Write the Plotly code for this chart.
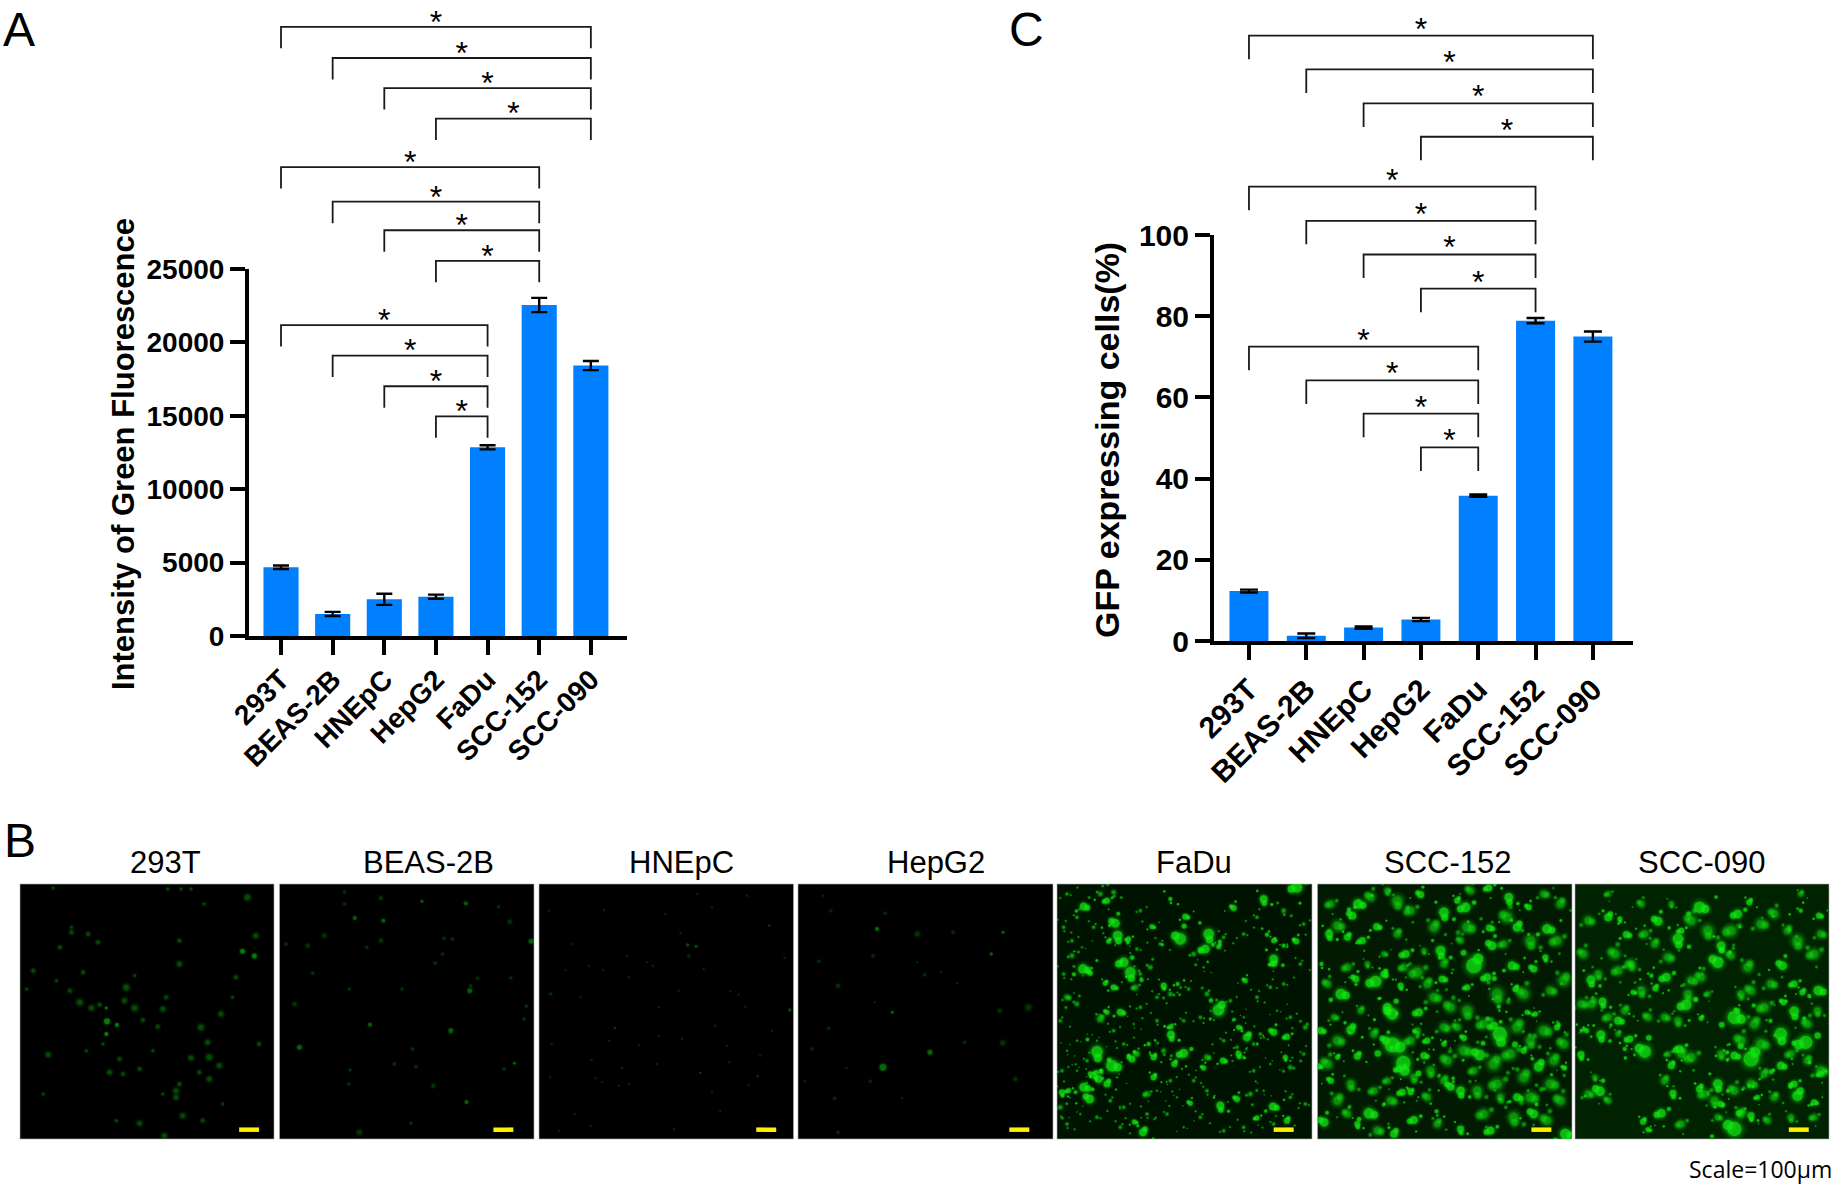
import plotly.graph_objects as go

W, H = 1834, 1188

# ---------- data ----------
CATEGORIES = ["293T", "BEAS-2B", "HNEpC", "HepG2", "FaDu", "SCC-152", "SCC-090"]
INTENSITY = [4680, 1500, 2500, 2680, 12850, 22550, 18420]
INTENSITY_ERR = [120, 140, 380, 140, 140, 486, 312]
GFP = [12.3, 1.3, 3.3, 5.3, 35.8, 78.9, 75.0]
GFP_ERR = [0.35, 0.55, 0.3, 0.4, 0.3, 0.65, 1.25]
TICKS_A = [0, 5000, 10000, 15000, 20000, 25000]
TICKS_C = [0, 20, 40, 60, 80, 100]
# bracket heights (value units) from the top bracket down, 4 per right-hand bar
LEVELS_A = [41493, 39375, 37326, 35243, 31944, 29583, 27639, 25556, 21181, 19097, 17014, 14965]
LEVELS_C = [149.1, 140.8, 132.4, 124.2, 111.9, 103.5, 95.2, 86.8, 72.5, 64.2, 56.0, 47.7]
BRACKET_LEFT = [0, 1, 2, 3]
BRACKET_RIGHT = [6, 5, 4]

# microscope panels: spots (x, y, diameter) in a 765-wide frame
T293_BRIGHT = [(670,202,5),(706,216,5),(262,412,6),(292,423,4),(260,450,4),(260,372,3)]
T293_DIM = [(570,520,6),(515,522,5),(470,620,5),(565,475,5),(345,372,6),(320,310,6),(315,350,5),(430,375,5),(240,362,4),
            (180,355,6),(215,372,5),(155,145,4),(155,130,3),(40,260,4),(190,265,4),(480,170,4),(480,240,5),(685,40,6),
            (710,155,5),(650,280,4),(345,275,3),(85,512,5),(270,565,5),(310,570,4),(360,555,4),(480,600,4),(490,695,5),
            (360,718,5),(570,585,5),(545,430,6),(605,390,5),(415,428,4),(370,408,4),(300,525,4),(445,15,3),(485,15,3),
            (515,15,3),(555,60,3),(100,12,3),(120,190,4),(470,640,5),(435,755,5),(550,710,4),(235,175,4),(205,150,4),
            (440,340,4),(430,630,3),(540,565,4),(600,545,5),(150,320,4),(110,290,3),(200,500,3),(250,480,3),(400,500,3),
            (640,340,3),(720,480,4),(610,660,3),(70,630,3),(20,315,3),(290,710,3)]
BEAS_BRIGHT = [(572,320,5),(756,172,5),(428,52,3),(560,58,4),(226,102,4),(312,110,4),(562,654,4),(60,490,5),(272,422,4),(706,538,3),(515,440,5)]
BEAS_DIM = [(135,155,4),(85,185,4),(495,163,3),(520,165,3),(575,305,3),(692,113,4),(658,68,3),(305,170,4),(262,190,3),(210,315,3),
            (100,268,3),(45,360,4),(368,315,3),(490,210,3),(468,238,3),(595,283,3),(742,367,3),(735,405,3),(212,558,3),(208,600,3),
            (410,548,3),(462,605,4),(345,540,3),(240,745,5),(395,718,3),(20,180,3),(195,60,3),(305,42,4),(195,25,3),(695,282,3),
            (675,555,3),(400,495,3)]
HNEPC_BRIGHT = [(447,183,3),(472,187,3),(485,566,2),(657,577,2),(228,432,2),(692,125,2),(754,378,3)]
HNEPC_DIM = [(425,148,2),(342,246,2),(325,235,2),(450,215,3),(193,258,2),(35,330,3),(38,480,2),(158,528,2),(250,552,2),(300,483,2),
             (430,465,2),(545,682,2),(108,690,2),(270,600,2),(33,580,2),(190,595,2),(170,583,2),(600,332,2),(738,222,2),(270,280,2),
             (195,78,2),(30,80,2),(475,30,2),(625,35,2),(360,370,2),(575,322,2),(620,368,2),(572,535,2),(630,603,2),(405,735,2),
             (520,625,2),(355,540,2),(80,258,2),(100,180,2),(150,245,2),(420,320,2),(495,255,2),(530,425,2),(665,515,2),(240,605,2),
             (125,340,2),(210,470,2),(360,455,2),(155,725,2),(60,740,2),(700,440,2),(520,70,2),(380,90,2),(265,215,2),(565,485,2)]
HEPG2_BRIGHT = [(237,135,4),(396,505,5),(255,550,7),(615,145,3),(580,210,3),(283,385,3)]
HEPG2_DIM = [(358,150,5),(465,145,3),(98,80,3),(120,306,4),(692,370,6),(614,477,5),(605,380,4),(380,272,3),(225,215,3),(62,232,3),
             (428,265,2),(478,298,2),(358,235,2),(92,433,3),(42,495,3),(217,592,3),(652,585,4),(500,475,3),(110,643,3),(120,745,3),
             (75,35,2),(262,88,3),(230,355,2),(145,552,2),(20,592,2),(312,642,2)]
FADU_BRIGHT = [(80,68,8),(175,118,9),(182,155,10),(215,165,5),(155,172,5),(285,128,5),(370,165,12),(455,150,11),(445,195,9),(485,188,5),
               (385,98,6),(530,72,6),(620,45,8),(720,10,11),(650,170,5),(680,185,4),(718,172,6),(650,225,9),(645,240,5),(630,152,4),
               (78,255,10),(100,268,5),(220,265,11),(200,235,10),(145,298,5),(170,310,6),(565,290,5),(320,305,6),(362,300,4),(485,378,12),
               (190,385,7),(150,385,5),(342,452,8),(342,428,5),(570,460,8),(545,430,5),(650,445,7),(120,503,12),(380,508,9),(352,540,6),
               (165,545,12),(125,585,8),(100,570,5),(118,565,5),(150,600,7),(80,610,9),(98,645,9),(15,625,6),(35,620,5),(290,580,6),
               (498,530,6),(440,552,5),(545,510,6),(690,458,6),(690,710,6),(648,668,8),(540,645,6),(490,665,8),(600,702,5),(258,745,8),
               (232,714,5),(400,658,5),(685,520,5),(275,480,4),(290,520,6),(460,405,3),(225,525,7),(340,45,4),(150,50,6)]
FADU_DIM = [(30,30,3),(60,100,3),(20,130,3),(45,170,3),(110,130,3),(75,190,2),(130,30,4),(170,25,4),(250,80,3),(310,180,3),
            (240,195,3),(280,250,4),(250,270,3),(235,310,5),(300,340,3),(340,330,4),(395,315,3),(440,250,2),(410,210,4),(500,160,3),
            (560,150,3),(600,100,3),(680,80,4),(740,120,3),(730,240,3),(680,300,3),(640,310,3),(600,340,3),(520,350,3),(450,330,4),
            (430,400,3),(380,410,3),(300,410,3),(250,370,3),(130,405,6),(30,340,5),(60,360,4),(20,270,3),(45,215,4),(10,410,3),
            (60,470,2),(90,530,3),(30,500,2),(15,560,3),(60,560,2),(200,480,3),(240,510,5),(320,500,4),(340,590,3),(410,590,3),
            (450,520,5),(500,470,3),(540,490,3),(590,560,3),(640,540,2),(700,550,4),(740,510,3),(620,620,2),(580,630,4),(700,640,3),
            (745,660,3),(650,720,3),(560,730,3),(500,740,3),(430,700,3),(380,730,2),(330,690,3),(270,690,3),(200,670,3),(160,650,3),
            (120,700,3),(70,690,2),(30,720,3),(10,670,4),(190,730,3),(300,620,2),(360,640,2),(450,620,3),(270,630,5),(180,580,2),
            (590,480,3),(560,520,3),(610,450,3),(700,400,3),(745,430,4),(660,380,2),(560,400,2),(230,420,2),(170,440,3),(120,470,2)]
SCC152_BRIGHT = [(122,60,10),(105,95,8),(35,150,8),(135,170,7),(90,160,7),(178,128,7),(310,32,7),(380,85,10),(445,70,10),(420,50,6),
                 (517,132,7),(525,185,9),(575,40,9),(515,12,7),(600,130,9),(690,135,10),(635,70,6),(370,200,10),(265,210,8),(470,245,16),
                 (585,245,9),(650,255,7),(685,220,6),(175,292,12),(200,270,7),(70,330,11),(115,285,7),(250,305,6),(450,310,6),(595,315,6),
                 (375,285,7),(225,390,12),(210,370,9),(305,385,8),(100,438,9),(225,483,16),(205,470,8),(258,537,15),(245,555,7),(120,517,7),
                 (320,515,7),(487,513,11),(548,450,15),(530,425,8),(665,548,10),(3,547,6),(400,608,8),(430,620,9),(255,625,7),(280,625,6),
                 (155,688,11),(20,715,9),(120,720,6),(290,708,8),(230,750,8),(745,750,11),(742,552,5),(358,682,4),(655,390,5),(720,430,6),
                 (630,385,5),(440,462,6),(545,368,4),(330,470,6),(380,480,5),(600,640,8),(650,690,9),(430,735,7),(520,740,8),(60,520,5),
                 (10,440,7),(40,590,6),(12,240,4),(510,280,8),(620,500,6)]
SCC152_DIM = [(60,125,9),(160,40,8),(240,50,10),(280,80,8),(350,130,9),(450,130,10),(570,100,10),(640,170,10),(720,170,9),(740,290,10),
              (700,320,8),(620,330,10),(540,330,11),(300,265,10),(330,300,8),(350,340,9),(400,370,9),(450,380,10),(500,420,9),(600,430,10),
              (680,440,10),(740,480,9),(640,470,9),(580,510,10),(530,540,11),(440,500,10),(390,530,9),(340,560,8),(280,470,8),(170,450,7),
              (60,470,9),(30,540,9),(100,600,8),(170,620,7),(60,650,9),(220,650,8),(330,640,7),(480,620,9),(540,600,10),(620,580,10),
              (700,600,10),(730,650,9),(590,700,10),(500,690,9),(360,720,7),(180,740,8),(90,690,7),(290,580,7),(210,590,6),(130,380,6),
              (50,400,6),(30,300,7),(150,240,5),(90,250,7),(240,150,7),(200,210,5),(430,170,6),(320,200,5),(560,180,7),(730,60,8),
              (680,30,7),(460,20,7),(210,20,6),(40,60,7),(710,530,9),(380,430,8),(420,430,7),(300,440,6),(470,560,7),(380,590,7),
              (640,640,10),(690,710,9),(550,640,7),(260,250,7),(380,240,7)]
SCC090_BRIGHT = [(155,152,7),(250,112,9),(310,165,11),(320,140,6),(100,100,8),(375,70,12),(430,235,12),(440,185,9),(490,90,9),(525,55,6),
                 (735,95,6),(680,80,4),(48,287,9),(275,280,9),(242,313,6),(175,325,5),(625,245,9),(83,353,8),(335,362,11),(380,403,5),
                 (130,410,8),(35,440,5),(78,452,9),(165,465,7),(150,495,4),(480,400,14),(490,380,5),(660,382,10),(660,300,7),(685,325,6),
                 (733,320,10),(628,355,6),(620,450,13),(695,475,14),(530,525,16),(480,515,8),(210,503,13),(18,512,7),(315,495,8),(290,545,7),
                 (620,545,8),(458,505,4),(430,600,10),(660,600,7),(670,635,11),(720,655,6),(75,622,10),(295,628,7),(260,688,9),(205,713,6),
                 (220,737,5),(480,735,15),(530,695,7),(740,570,6),(375,615,7),(438,660,6),(230,275,4),(135,105,5),(550,640,5),(20,440,4),(525,605,4)]
SCC090_DIM = [(40,110,8),(120,210,9),(170,240,8),(210,150,7),(240,180,7),(280,220,8),(350,110,9),(400,140,10),(470,140,10),(520,250,9),
              (560,120,9),(600,90,8),(670,170,10),(720,210,9),(640,140,7),(590,300,8),(530,320,8),(500,330,7),(570,370,9),(540,420,9),
              (560,480,10),(500,470,9),(440,510,7),(350,520,9),(320,510,8),(270,400,7),(220,400,7),(200,320,8),(130,260,8),(50,360,8),
              (20,360,8),(25,210,8),(70,270,7),(100,400,7),(150,380,7),(350,290,8),(380,280,8),(310,410,7),(400,330,5),(700,530,7),
              (740,560,9),(700,420,8),(730,380,7),(650,510,7),(600,640,7),(530,600,8),(480,620,8),(420,650,8),(390,630,8),(270,590,7),
              (40,630,7),(100,650,6),(60,580,5),(320,720,7),(500,690,8),(430,700,6),(580,710,6),(650,700,6),(720,700,6),(570,570,7),
              (160,240,6),(200,60,6),(290,60,5),(100,30,5),(680,30,5),(740,150,7),(470,215,7),(340,330,8),(280,510,5),(130,450,5)]
PANEL_NAMES = CATEGORIES
PANEL_BRIGHT = [T293_BRIGHT, BEAS_BRIGHT, HNEPC_BRIGHT, HEPG2_BRIGHT, FADU_BRIGHT, SCC152_BRIGHT, SCC090_BRIGHT]
PANEL_DIM = [T293_DIM, BEAS_DIM, HNEPC_DIM, HEPG2_DIM, FADU_DIM, SCC152_DIM, SCC090_DIM]
PANEL_SCALEBAR = [(660,720),(643,703),(653,713),(634,694),(650,710),(643,703),(644,704)]

# ---------- layout constants ----------
FONT = "Liberation Sans"
BLUE = "#007FFF"
INK = "#000000"
PANEL_X = [(20,274),(279.5,534),(539,793.5),(798,1053),(1057,1312),(1317.5,1572),(1575,1829)]
PANEL_Y = (884,1139)
PANEL_BG = ["#000000","#000000","#000000","#000000","#001300","#011a01","#012201"]
CORE_ALPHA = [0.6, 0.45, 0.4, 0.5, 1.0, 1.0, 1.0]
DIM_ALPHA = [0.3, 0.22, 0.2, 0.2, 0.7, 0.62, 0.62]
# irregular blob outline: (offset x, offset y, relative size), unequal so no regular shape appears
LOBES = [[(0.9, 0.25, 0.7), (-1.7, 1.0, 0.4), (2.6, -1.6, 0.28)], [(-0.8, -0.5, 0.7), (0.6, -2.0, 0.42), (-2.8, 0.9, 0.25)],
         [(0.15, 1.0, 0.68), (1.9, 1.3, 0.38), (-1.5, -1.9, 0.3)], [(-0.95, 0.3, 0.72), (1.6, -0.9, 0.45), (0.5, 2.7, 0.26)],
         [(0.5, -0.8, 0.66), (-1.2, -1.5, 0.36), (2.4, 1.5, 0.3)]]
GREEN = "20,235,20"

dx = lambda p: p / W
dy = lambda p: 1 - p / H

fig = go.Figure()
layout = dict(width=W, height=H, margin=dict(l=0, r=0, t=0, b=0, autoexpand=False), paper_bgcolor="white",
              plot_bgcolor="rgba(0,0,0,0)", showlegend=False)


def add_chart(xa, ya, yb, values, errs, levels, leg, ticks, rng, box, left_edge, font_size, cap, star_off, star_size, xstandoff):
    xl, xr, yt, yb_px = box
    xkey, ykey, ykey2 = "xaxis" + xa[1:], "yaxis" + ya[1:], "yaxis" + yb[1:]
    layout[xkey] = dict(domain=[dx(xl), dx(xr)], range=[left_edge, 6.7], anchor=ya,
                        tickmode="array", tickvals=list(range(7)), ticktext=CATEGORIES, tickangle=-45,
                        ticks="outside", ticklen=15, tickwidth=4, tickcolor=INK, showline=True, linewidth=4,
                        linecolor=INK, showgrid=False, zeroline=False, ticklabelstandoff=xstandoff,
                        tickfont=dict(family=FONT, size=font_size, color=INK, weight="bold"))
    layout[ykey] = dict(domain=[dy(yb_px), dy(yt)], range=rng, anchor=xa, tickmode="array", tickvals=ticks,
                        ticks="outside", ticklen=15, tickwidth=4, tickcolor=INK, showline=True, linewidth=4,
                        linecolor=INK, showgrid=False, zeroline=False, tickformat="d",
                        tickfont=dict(family=FONT, size=font_size, color=INK, weight="bold"))
    # hidden companion axis with the same scale, reaching to the top of the page for the brackets
    layout[ykey2] = dict(domain=[dy(yb_px), 1], range=[0, rng[1] * yb_px / (yb_px - yt)],
                         anchor=xa, visible=False)
    fig.add_trace(go.Bar(x=list(range(7)), y=values, width=0.68, marker=dict(color=BLUE, line=dict(width=0)),
                         error_y=dict(type="data", array=errs, color=INK, thickness=2.4, width=cap),
                         xaxis=xa, yaxis=ya))
    i = 0
    for right in BRACKET_RIGHT:
        for left in BRACKET_LEFT:
            lv = levels[i]
            fig.add_trace(go.Scatter(x=[left, left, right, right], y=[lv - leg, lv, lv, lv - leg], mode="lines",
                                     line=dict(color="#1a1a1a", width=1.8), xaxis=xa, yaxis=yb, hoverinfo="skip"))
            fig.add_trace(go.Scatter(x=[(left + right) / 2], y=[lv + star_off], mode="text", text=["*"],
                                     textposition="middle center",
                                     textfont=dict(family=FONT, size=star_size, color=INK),
                                     xaxis=xa, yaxis=yb, hoverinfo="skip"))
            i += 1


add_chart("x", "y", "y2", INTENSITY, INTENSITY_ERR, LEVELS_A, 1458, TICKS_A, [0, 25000], (249, 627, 269, 636), -0.62, 28, 8, 150, 32, -3)
add_chart("x2", "y3", "y4", GFP, GFP_ERR, LEVELS_C, 5.8, TICKS_C, [0, 100], (1214, 1633, 235, 641), -0.61, 30, 9, 1.0, 32, 0)


def with_lobes(spots):
    """Each spot plus smaller offset lobes, so that the blobs are not plain discs and fine speckle surrounds them."""
    out = []
    for i, (x, y, s) in enumerate(spots):
        out.append((x, y, s))
        for ox, oy, rs in LOBES[i % 5]:
            if s >= 5:
                out.append((x + ox * s * 1.6, y + oy * s * 1.6, s * rs))
            else:
                out.append((x + ox * 12, y + oy * 12, s * 0.6))
    return out


# microscope panels
for n, name in enumerate(PANEL_NAMES):
    xa, ya = f"x{n+3}", f"y{n+5}"
    x0, x1 = PANEL_X[n]
    layout[f"xaxis{n+3}"] = dict(domain=[dx(x0), dx(x1)], range=[0, 765], anchor=ya, visible=False)
    layout[f"yaxis{n+5}"] = dict(domain=[dy(PANEL_Y[1]), dy(PANEL_Y[0])], range=[765, 0], anchor=xa, visible=False)
    layout.setdefault("shapes", []).append(dict(type="rect", xref=f"{xa} domain", yref=f"{ya} domain", x0=0, x1=1, y0=0, y1=1,
                                                fillcolor=PANEL_BG[n], line=dict(color="#b0b0b0", width=0.6), layer="below"))
    lobed = n >= 4
    dim = with_lobes(PANEL_DIM[n]) if lobed else PANEL_DIM[n]
    bright = with_lobes(PANEL_BRIGHT[n]) if lobed else PANEL_BRIGHT[n]
    ca, da = CORE_ALPHA[n], DIM_ALPHA[n]
    # overlapping translucent discs give each spot a soft edge
    for spots, scale, alpha in [(dim, 1.9, da * 0.2), (dim, 1.5, da * 0.3), (dim, 1.15, da * 0.5), (dim, 0.85, da * 0.7),
                                (bright, 1.7, ca * 0.1), (bright, 1.4, ca * 0.15), (bright, 1.15, ca * 0.3), (bright, 0.95, ca * 0.9)]:
        fig.add_trace(go.Scatter(x=[s[0] for s in spots], y=[s[1] for s in spots], mode="markers",
                                 marker=dict(color=f"rgba({GREEN},{alpha})", size=[s[2] * scale for s in spots], line=dict(width=0)),
                                 xaxis=xa, yaxis=ya, hoverinfo="skip"))
    fig.add_trace(go.Scatter(x=list(PANEL_SCALEBAR[n]), y=[737, 737], mode="lines", line=dict(color="#FFF000", width=4.5),
                             xaxis=xa, yaxis=ya, hoverinfo="skip"))

# text
PANEL_TITLE_X = [165, 428, 681, 936, 1194, 1448, 1702]
ann = []
base = dict(xref="paper", yref="paper", showarrow=False, xanchor="center", yanchor="middle")
for name, tx in zip(PANEL_NAMES, PANEL_TITLE_X):
    ann.append(dict(text=name, x=dx(tx), y=dy(862), font=dict(family=FONT, size=31, color=INK), **base))
for letter, lx, ly in [("A", 19, 29), ("B", 20, 840), ("C", 1026, 29)]:
    ann.append(dict(text=letter, x=dx(lx), y=dy(ly), font=dict(family=FONT, size=48, color=INK), **base))
ann.append(dict(text="Intensity of Green Fluorescence", x=dx(123), y=dy(454), textangle=-90,
                font=dict(family=FONT, size=31, color=INK, weight="bold"), **base))
ann.append(dict(text="GFP expressing cells(%)", x=dx(1107), y=dy(440), textangle=-90,
                font=dict(family=FONT, size=34, color=INK, weight="bold"), **base))
ann.append(dict(text="Scale=100μm", x=dx(1760), y=dy(1169), font=dict(family="Open Sans", size=23, color=INK), **base))
layout["annotations"] = ann

fig.update_layout(**layout)
fig.write_html("out.html", post_script="document.body.style.margin='0';", config={"displayModeBar": False})
